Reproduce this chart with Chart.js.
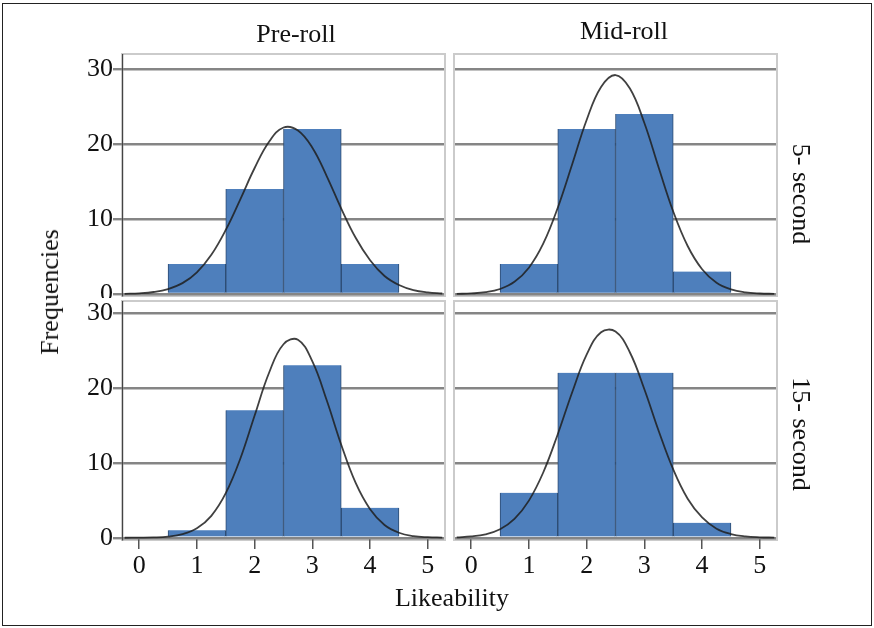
<!DOCTYPE html>
<html lang="en">
<head>
<meta charset="UTF-8" />
<title>Likeability</title>
<script src="https://cdn.jsdelivr.net/npm/chart.js"></script>
<style>
  body { margin: 0; background: #fff; }
  #page { position: relative; width: 874px; height: 628px; overflow: hidden; font-family: "Liberation Serif", serif; color: #111; }
  #frame { position: absolute; left: 2px; top: 3px; width: 868px; height: 621px; border: 1.5px solid #222; }
  canvas { position: absolute; }
  .lbl { position: absolute; font-size: 26px; line-height: 1; white-space: nowrap; transform: translate(-50%, -50%); }
  .rot { transform: translate(-50%, -50%) rotate(90deg); }
  .rotl { transform: translate(-50%, -50%) rotate(-90deg); }
</style>
</head>
<body>
<div id="page">
  <div id="frame"></div>
  <canvas id="c0"></canvas>
  <canvas id="c1"></canvas>
  <canvas id="c2"></canvas>
  <canvas id="c3"></canvas>
  <div class="lbl" id="col0" style="left:296px; top:34px;"></div>
  <div class="lbl" id="col1" style="left:624px; top:31px;"></div>
  <div class="lbl rot" id="row0" style="left:801px; top:194px;"></div>
  <div class="lbl rot" id="row1" style="left:801px; top:434px;"></div>
  <div class="lbl rotl" id="ytitle" style="left:50px; top:292px;">Frequencies</div>
  <div class="lbl" id="xtitle" style="left:452px; top:598px;">Likeability</div>
</div>

<script>
  // facet labels
  const columns = ['Pre-roll', 'Mid-roll'];
  const rows = ['5- second', '15- second'];

  // histogram bins (likeability score) and counts
  const likeability = [1, 2, 3, 4];
  const preroll5 = [4, 14, 22, 4];
  const midroll5 = [4, 22, 24, 3];
  const preroll15 = [1, 17, 23, 4];
  const midroll15 = [6, 22, 22, 2];

  // normal curve heights
  const curveX = [-0.25, 0, 0.25, 0.5, 0.75, 1, 1.25, 1.5, 1.75, 2, 2.25, 2.5, 2.75, 3, 3.25, 3.5, 3.75, 4, 4.25, 4.5, 4.75, 5, 5.25];
  const preroll5Curve = [0.03, 0.10, 0.27, 0.66, 1.45, 2.90, 5.23, 8.55, 12.6, 16.8, 20.3, 22.2, 21.8, 19.5, 15.7, 11.4, 7.5, 4.5, 2.4, 1.2, 0.52, 0.21, 0.07];
  const midroll5Curve = [0.02, 0.08, 0.24, 0.67, 1.63, 3.51, 6.74, 11.5, 17.3, 23.2, 27.6, 29.2, 27.4, 22.8, 16.8, 11.0, 6.4, 3.3, 1.5, 0.62, 0.22, 0.07, 0.02];
  const preroll15Curve = [0.00, 0.01, 0.04, 0.15, 0.47, 1.25, 2.92, 5.94, 10.5, 16.3, 22.0, 25.8, 26.4, 23.5, 18.3, 12.4, 7.3, 3.8, 1.7, 0.66, 0.22, 0.07, 0.02];
  const midroll15Curve = [0.05, 0.17, 0.46, 1.13, 2.51, 4.95, 8.73, 13.8, 19.4, 24.4, 27.4, 27.5, 24.7, 19.8, 14.2, 9.1, 5.2, 2.7, 1.2, 0.49, 0.18, 0.06, 0.02];

  const xTickValues = [0, 1, 2, 3, 4, 5];
  const yTickValues = [0, 10, 20, 30];

  document.getElementById('col0').textContent = columns[0];
  document.getElementById('col1').textContent = columns[1];
  document.getElementById('row0').textContent = rows[0];
  document.getElementById('row1').textContent = rows[1];

  const tickFont = { family: '"Liberation Serif", serif', size: 26 };

  // light frame round each panel; left panels also hide what pokes in from above
  const panelFrame = {
    id: 'panelFrame',
    beforeDraw(chart, args, opts) {
      const { ctx, chartArea: a } = chart;
      ctx.save();
      if (opts.cover) {
        ctx.fillStyle = '#fff';
        ctx.fillRect(0, a.top - 4, a.left - 1, a.bottom - a.top + 4);
      }
      ctx.strokeStyle = '#cbcbcb';
      ctx.lineWidth = 2;
      ctx.strokeRect(a.left - 1, a.top - 1, a.right - a.left + 2, a.bottom - a.top + 2);
      ctx.restore();
    }
  };

  function makePanel(id, area, yRange, bars, curve, showY, showX) {
    const canvas = document.getElementById(id);
    const pad = 20;
    const yW = showY ? 50 : 0;
    const xH = showX ? 44 : 0;
    canvas.width = area.right - area.left + yW + 2 * pad;
    canvas.height = area.bottom - area.top + xH + 2 * pad;
    canvas.style.left = (area.left - yW - pad) + 'px';
    canvas.style.top = (area.top - pad) + 'px';

    return new Chart(canvas, {
      data: {
        datasets: [{
          type: 'line',
          data: curveX.map((x, i) => ({ x: x, y: curve[i] })),
          borderColor: 'rgba(30,30,30,0.85)',
          borderWidth: 1.8,
          pointRadius: 0,
          tension: 0.4,
          fill: false,
          order: 0
        }, {
          type: 'bar',
          data: likeability.map((x, i) => ({ x: x, y: bars[i] })),
          backgroundColor: '#4e7fbc',
          borderColor: '#2c4a70',
          borderWidth: { left: 1, right: 1, top: 0, bottom: 0 },
          borderSkipped: false,
          barPercentage: 1,
          categoryPercentage: 1,
          order: 1
        }]
      },
      options: {
        responsive: false,
        animation: false,
        layout: { padding: pad },
        plugins: {
          legend: { display: false },
          tooltip: { enabled: false },
          panelFrame: { cover: showY && showX }
        },
        scales: {
          x: {
            type: 'linear',
            min: -0.28,
            max: 5.28,
            offset: false,
            display: showX,
            afterBuildTicks: (axis) => { axis.ticks = xTickValues.map(v => ({ value: v })); },
            afterFit: (axis) => { axis.height = xH; },
            grid: { offset: false, drawOnChartArea: false, drawTicks: true, tickLength: 10, color: '#555', lineWidth: 1.5 },
            border: { display: false },
            ticks: { font: tickFont, color: '#111', padding: 2, maxRotation: 0 }
          },
          y: {
            type: 'linear',
            min: yRange[0],
            max: yRange[1],
            afterBuildTicks: (axis) => { axis.ticks = yTickValues.map(v => ({ value: v })); },
            afterFit: (axis) => { axis.width = yW; },
            grid: { color: '#858585', lineWidth: 2.4, drawTicks: showY, tickLength: 10 },
            border: { display: showY, color: '#444', width: 1.2 },
            ticks: { display: showY, font: tickFont, color: '#111', padding: 0 }
          }
        }
      },
      plugins: [panelFrame]
    });
  }

  makePanel('c0', { left: 123, right: 444, top: 55, bottom: 295 }, [-0.13, 31.87], preroll5, preroll5Curve, true, false);
  makePanel('c1', { left: 455, right: 776, top: 55, bottom: 295 }, [-0.13, 31.87], midroll5, midroll5Curve, false, false);
  makePanel('c2', { left: 123, right: 444, top: 302, bottom: 539 }, [-0.17, 31.43], preroll15, preroll15Curve, true, true);
  makePanel('c3', { left: 455, right: 776, top: 302, bottom: 539 }, [-0.17, 31.43], midroll15, midroll15Curve, false, true);
</script>
</body>
</html>
